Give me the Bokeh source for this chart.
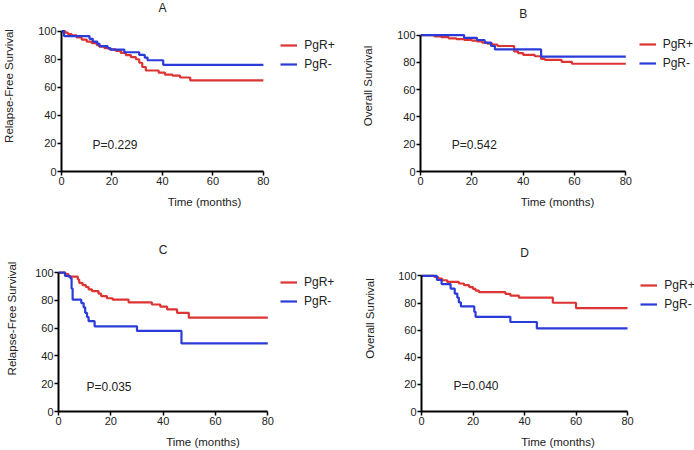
from bokeh.plotting import figure
from bokeh.layouts import column, row
from bokeh.models import Range1d, FixedTicker, Label, Legend, LegendItem
from bokeh.embed import file_html
from bokeh.resources import INLINE

# ---------------- data ----------------
time_ticks = [0, 20, 40, 60, 80]
surv_ticks = [0, 20, 40, 60, 80, 100]
legend_labels = ["PgR+", "PgR-"]
panel_letters = ["A", "B", "C", "D"]
y_titles = ["Relapse-Free Survival", "Overall Survival",
            "Relapse-Free Survival", "Overall Survival"]
x_title = "Time (months)"
p_values = ["P=0.229", "P=0.542", "P=0.035", "P=0.040"]

# Panel A: relapse-free survival
a_pos_t = [0, 1.5, 2.5, 4, 6, 8, 10, 12, 14, 15, 17, 19, 21.5, 23.5, 25.5, 27.5,
           29.5, 30.8, 32, 33.4, 38.5, 41, 44, 47, 51, 80]
a_pos_s = [100, 99, 98, 97, 95.5, 94, 92.5, 91.5, 90, 89, 88, 87, 86, 84.5, 83, 81.5,
           80, 77.5, 74.5, 72, 70.5, 69, 68.3, 67, 65, 65]
a_neg_t = [0, 1, 11.1, 12.4, 14.2, 15.1, 18.3, 19.4, 24.9, 30.8, 33, 34.1, 40.3, 80]
a_neg_s = [100, 96.5, 94.6, 92.6, 91, 89.3, 88, 86.9, 85, 83.1, 81.2, 79.3, 76, 76]

# Panel B: overall survival
b_pos_t = [0, 5.5, 8, 11, 14, 17, 20, 22, 24, 26, 28, 30, 36.5, 38, 40, 44.5, 47,
           48.5, 55, 59, 80]
b_pos_s = [100, 99, 98.5, 97.6, 97, 96.5, 96, 95.3, 94.5, 93.8, 93, 92, 88, 86.8,
           85.5, 84.5, 82.5, 81.8, 80.4, 79, 79]
b_neg_t = [0, 17, 22, 25, 27.5, 29, 47, 80]
b_neg_s = [100, 98, 96.4, 94.5, 92, 89.5, 84.2, 84.2]

# Panel C: relapse-free survival
c_pos_t = [0, 2.6, 3.8, 7.4, 7.9, 9.2, 10.5, 11.5, 12.8, 15.3, 16.3, 18.5, 20.7,
           26.8, 35.7, 38.9, 41.5, 45.3, 49.8, 80]
c_pos_s = [100, 98.8, 97, 95, 92.6, 90.9, 89.6, 87.9, 86.7, 84.8, 83.1, 81.5, 80.5,
           78.5, 77, 75.5, 73.5, 71, 67.5, 67.5]
c_neg_t = [0, 2.5, 4.5, 5, 5.4, 8.7, 9.6, 10.2, 10.9, 11.5, 13.8, 30, 47, 80]
c_neg_s = [100, 97.5, 96, 88.5, 80.5, 78, 75, 71, 68, 65, 61.3, 58, 49, 49]

# Panel D: overall survival
d_pos_t = [0, 5, 6.5, 8, 10, 14.5, 16.5, 18.5, 20, 21, 22.3, 32.6, 34.5, 37.8, 51, 60, 80]
d_pos_s = [100, 99.2, 98, 96.8, 95.6, 94.4, 93.2, 91.8, 90.4, 89.2, 88, 86.8, 85.5,
           84, 80.2, 76.3, 76.3]
d_neg_t = [0, 6, 7.8, 11.3, 12.9, 13.9, 14.5, 15.3, 20.5, 21, 34.5, 44.8, 80]
d_neg_s = [100, 97, 94, 90.7, 87, 84, 80.5, 77.5, 73.5, 69.8, 66, 61.3, 61.3]

series = [
    ((a_pos_t, a_pos_s), (a_neg_t, a_neg_s)),
    ((b_pos_t, b_pos_s), (b_neg_t, b_neg_s)),
    ((c_pos_t, c_pos_s), (c_neg_t, c_neg_s)),
    ((d_pos_t, d_pos_s), (d_neg_t, d_neg_s)),
]

# ---------------- layout / style ----------------
FONT = "Liberation Sans"
RED = "#dd3333"
BLUE = "#2b3bd9"
TXT = "#222222"
W, H = 347, 225

# pixel targets inside each figure (local coordinates)
layout = [
    dict(left=58, bottom=54, x80=262.0, y100=30.7, title_y=7.5, leg=(277.3, 44.0),
         pv=(89.3, 144.0), ylab_sd=20, xlab_sd=8),
    dict(left=73, bottom=52, x80=278.3, y100=35.0, title_y=13.3, leg=(291.7, 45.0),
         pv=(104.3, 145.7), ylab_sd=20, xlab_sd=8),
    dict(left=58, bottom=38, x80=267.3, y100=47.3, title_y=25, leg=(280.0, 57.3),
         pv=(86.0, 162.3), ylab_sd=14, xlab_sd=8),
    dict(left=74, bottom=38, x80=280.0, y100=50.7, title_y=27.7, leg=(293.3, 60.0),
         pv=(106.0, 161.3), ylab_sd=19, xlab_sd=8),
]

figs = []
for i in range(4):
    L = layout[i]
    fb = H - L["bottom"]                      # frame bottom (local px)
    sx = (L["x80"] - L["left"]) / 80.0        # px per month
    sy = (fb - L["y100"]) / 100.0             # px per survival unit
    x_end = (W - L["left"]) / sx
    y_end = fb / sy

    p = figure(width=W, height=H, output_backend="svg", toolbar_location=None,
               x_range=Range1d(0, x_end), y_range=Range1d(0, y_end),
               min_border_left=L["left"], min_border_bottom=L["bottom"],
               min_border_top=0, min_border_right=0)
    p.outline_line_color = None
    p.xgrid.visible = False
    p.ygrid.visible = False
    p.background_fill_color = "white"
    p.border_fill_color = "white"

    for ax in (p.xaxis[0], p.yaxis[0]):
        ax.axis_line_width = 2
        ax.axis_line_color = "black"
        ax.major_tick_line_width = 1.5
        ax.major_tick_line_color = "black"
        ax.major_tick_out = 4
        ax.major_tick_in = 0
        ax.minor_tick_line_color = None
        ax.major_label_standoff = 1
        ax.major_label_text_font = FONT
        ax.major_label_text_font_size = "11px"
        ax.major_label_text_color = TXT
        ax.axis_label_text_font = FONT
        ax.axis_label_text_font_size = "11.5px"
        ax.axis_label_text_font_style = "normal"
        ax.axis_label_text_color = TXT

    p.xaxis.ticker = FixedTicker(ticks=time_ticks)
    p.yaxis.ticker = FixedTicker(ticks=surv_ticks)
    p.xaxis.bounds = (0, 80)
    p.yaxis.bounds = (0, 100)
    p.xaxis.axis_label = x_title
    p.yaxis.axis_label = y_titles[i]
    p.xaxis.axis_label_standoff = int(L["xlab_sd"])
    p.yaxis.axis_label_standoff = int(L["ylab_sd"])

    (pt, ps), (nt, ns) = series[i]
    r_pos = p.step(pt, ps, mode="after", line_color=RED, line_width=2.2)
    r_neg = p.step(nt, ns, mode="after", line_color=BLUE, line_width=2.2)

    # legend
    lx, ly = L["leg"]
    legend = Legend(items=[LegendItem(label=legend_labels[0], renderers=[r_pos]),
                           LegendItem(label=legend_labels[1], renderers=[r_neg])],
                    location=(lx - L["left"], fb - (ly + 27)),
                    orientation="vertical", padding=0, margin=0, spacing=5,
                    glyph_width=17, glyph_height=12, label_height=12,
                    label_standoff=7, border_line_color=None,
                    background_fill_alpha=0,
                    label_text_font=FONT, label_text_font_size="12px",
                    label_text_color=TXT, label_text_baseline="middle")
    p.add_layout(legend, "center")

    # panel letter
    p.add_layout(Label(x=40, y=(fb - L["title_y"]) / sy, text=panel_letters[i],
                       text_align="center", text_baseline="middle",
                       text_font=FONT, text_font_size="12px", text_color=TXT))
    # p-value
    px, py = L["pv"]
    p.add_layout(Label(x=(px - L["left"]) / sx, y=(fb - py) / sy, text=p_values[i],
                       text_align="left", text_baseline="middle",
                       text_font=FONT, text_font_size="12px", text_color=TXT))
    figs.append(p)

page = column(row(figs[0], figs[1], spacing=0), row(figs[2], figs[3], spacing=0),
              spacing=0)
open("out.html", "w").write(file_html(page, INLINE))
